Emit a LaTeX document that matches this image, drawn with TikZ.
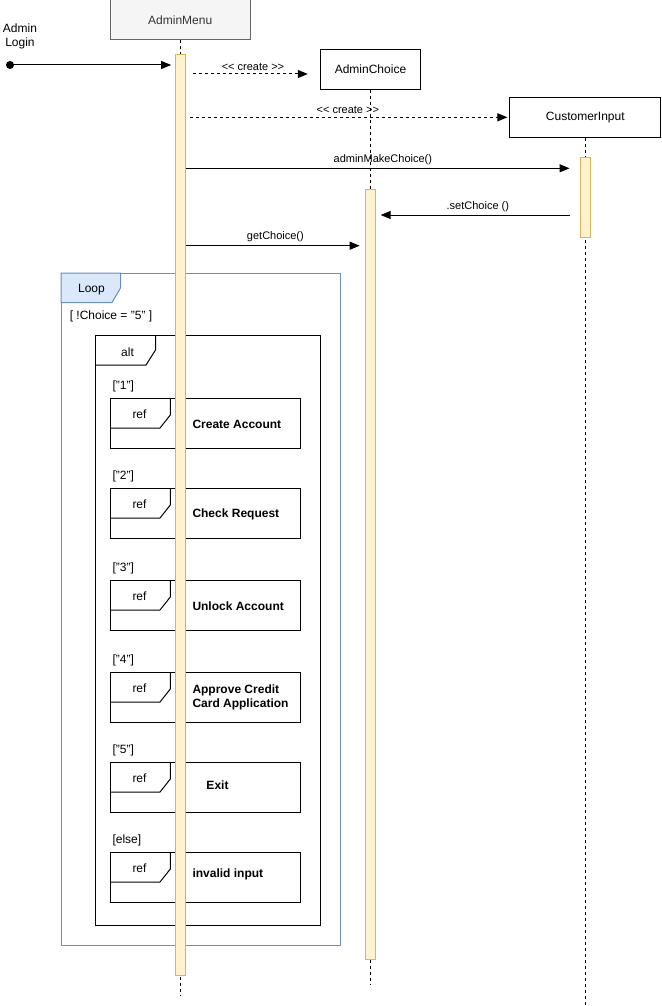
\documentclass[tikz,border=0pt]{standalone}
\usepackage{fontspec}
\setmainfont{Liberation Sans}
\usepackage[svgnames, dvipsnames]{xcolor}
\usetikzlibrary{calc, arrows.meta}

\definecolor{BarFill}{HTML}{FFF2CC}
\definecolor{BarLine}{HTML}{D6B656}
\definecolor{LoopLine}{HTML}{6C8EBF}
\definecolor{LoopFill}{HTML}{DAE8FC}
\definecolor{HeadFill}{HTML}{F5F5F5}
\definecolor{HeadLine}{HTML}{666666}

\tikzset{
    head/.style={draw, minimum height=40, inner sep=0pt},
    lifeline/.style={line width=0.8pt, dash pattern=on 3pt off 3pt},
    actbar/.style={draw=BarLine, fill=BarFill, minimum width=10.5, inner sep=0pt},
    msg/.style={-{Triangle[length=10pt, width=8pt]}},
    create/.style={msg, dash pattern=on 3pt off 3pt},
    msglabel/.style={font=\fontsize{11}{13}\selectfont, inner sep=0pt, above=3pt},
    tag/.style={inner sep=0pt},
    reflabel/.style={inner sep=0pt, font=\fontsize{12}{14}\selectfont\bfseries},
}

\begin{document}
\begin{tikzpicture}[x=1pt, y=-1pt, line width=1pt, font=\fontsize{12}{14}\selectfont]
    \useasboundingbox (0,0) rectangle (661,1006);

    % combined fragments
    \draw[LoopLine] (61,273) rectangle (340,945); % loop frame
    \filldraw[draw=LoopLine, fill=LoopFill] (61,273) -- (120.5,273) -- (120.5,288) -- (112,302.5) -- (61,302.5) -- cycle;
    \node[tag] (looptag) at (91.5,290) {Loop};
    \node[tag] (loopguard) at (111,316) {[ !Choice = "5" ]};
    \draw (95,335) rectangle (320,925); % alt frame
    \draw (95,365) -- (146,365) -- (155.5,350) -- (155.5,335);
    \node[tag] (alttag) at (127.5,352) {alt};
    \foreach \t/\g/\n in {398/{["1"]}/1, 488/{["2"]}/2, 580/{["3"]}/3, 672/{["4"]}/4, 762/{["5"]}/5, 852/{[else]}/6} {
        \node[tag, anchor=west] (guard\n) at (112,\t-11.5) {\g};
        \draw (110,\t) rectangle (300.5,\t+50);
        \draw (110,\t+30) -- (160,\t+30) -- (170.3,\t+17) -- (170.3,\t);
        \node[tag] (ref\n) at (139.5,\t+16) {ref};
    }
    \node[reflabel, anchor=west] (lbl1) at (192,424.5) {Create Account};
    \node[reflabel, anchor=west] (lbl2) at (192,514.5) {Check Request};
    \node[reflabel, anchor=west] (lbl3) at (192,606.5) {Unlock Account};
    \node[reflabel, anchor=west, align=left] (lbl4) at (192,697) {Approve Credit\\Card Application};
    \node[reflabel] (lbl5) at (217.5,785) {Exit};
    \node[reflabel, anchor=west] (lbl6) at (192,874.5) {invalid input};

    % lifelines
    \node[head, fill=HeadFill, draw=HeadLine, text=black!80, minimum width=140] (menu) at (180.2,20) {AdminMenu};
    \node[head, minimum width=100.4] (choice) at (370.5,69.2) {AdminChoice};
    \node[head, minimum width=150.7] (input) at (585.3,117.5) {CustomerInput};
    \coordinate (menuend) at (180.2,995);
    \coordinate (choiceend) at (370.5,985);
    \coordinate (inputend) at (585.3,1006);
    \draw[lifeline] (menu) -- (menuend);
    \draw[lifeline] (choice) -- (choiceend);
    \draw[lifeline] (input) -- (inputend);
    \node[actbar, minimum height=920] (menubar) at (180.4,515) {};
    \node[actbar, minimum height=770] (choicebar) at (370.4,574) {};
    \node[actbar, minimum height=80] (inputbar) at (585.3,197.3) {};

    % messages
    \node[tag, align=center] (admin) at (20,36.7) {Admin\\Login};
    \coordinate (login) at (10,65);
    \fill (login) circle (4);
    \draw[msg, shorten >=3.5pt] (login) -- (menubar.west |- login);
    \coordinate (c1) at (0,74);
    \draw[create, shorten <=7pt, shorten >=12pt] (menubar.east |- c1) -- (choice.west |- c1) node[midway, msglabel] (create1) {<{}< create >{}>};
    \coordinate (c2) at (0,117.3);
    \draw[create, shorten <=4pt, shorten >=2pt] (menubar.east |- c2) -- (input.west |- c2) node[midway, msglabel] (create2) {<{}< create >{}>};
    \coordinate (m1) at (0,168.3);
    \draw[msg, shorten >=10pt] (menubar.east |- m1) -- (inputbar.west |- m1) node[midway, msglabel] (make) {adminMakeChoice()};
    \coordinate (m2) at (0,215);
    \draw[msg, shorten <=10pt, shorten >=4.5pt] (inputbar.west |- m2) -- (choicebar.east |- m2) node[midway, msglabel] (set) {.setChoice ()};
    \coordinate (m3) at (0,245.7);
    \draw[msg, shorten >=5pt] (menubar.east |- m3) -- (choicebar.west |- m3) node[midway, msglabel] (get) {getChoice()};
\end{tikzpicture}
\end{document}
